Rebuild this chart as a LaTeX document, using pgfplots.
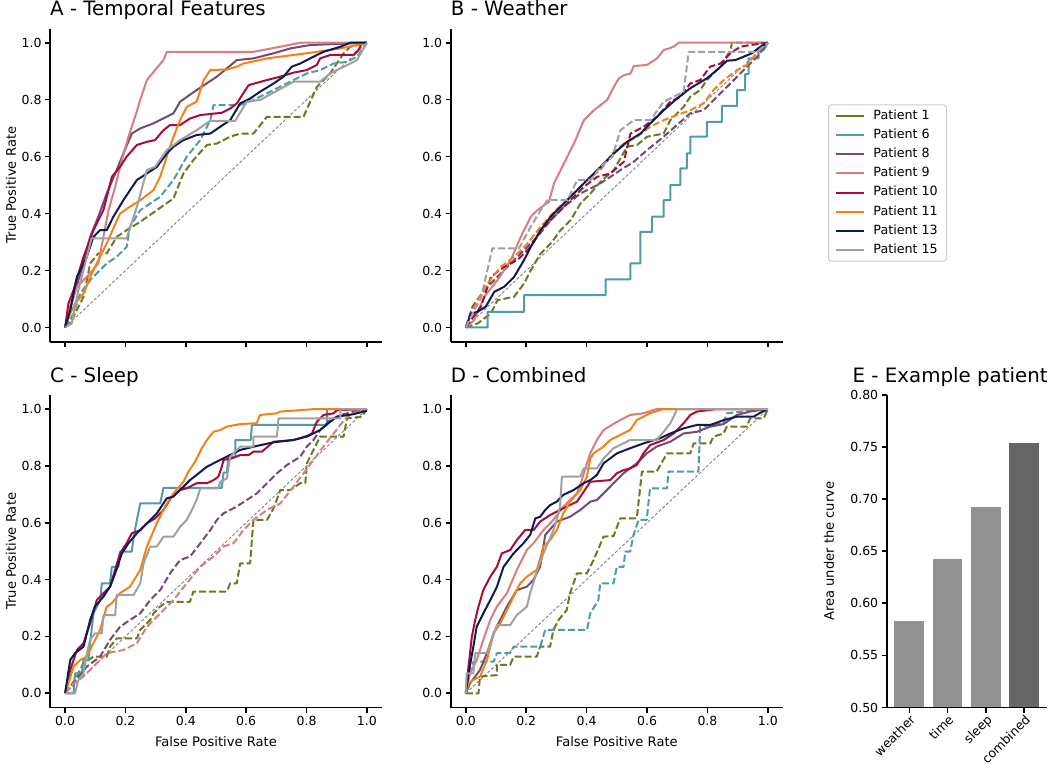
\documentclass[border=0pt]{standalone}
\usepackage{fontspec}
\setmainfont{DejaVu Sans}
\usepackage{pgfplots}
\pgfplotsset{compat=1.18}
\definecolor{c1}{RGB}{107,122,30}
\definecolor{c6}{RGB}{80,155,170}
\definecolor{c8}{RGB}{117,73,113}
\definecolor{c9}{RGB}{215,126,126}
\definecolor{c10}{RGB}{170,12,55}
\definecolor{c11}{RGB}{242,130,20}
\definecolor{c13}{RGB}{12,27,88}
\definecolor{c15}{RGB}{160,160,160}
\definecolor{barg}{RGB}{146,146,146}
\definecolor{bard}{RGB}{102,102,102}
\definecolor{legedge}{RGB}{204,204,204}
\tikzset{das/.style={dash pattern=on 7pt off 3pt}}
\newcommand{\labfont}{\fontsize{13.1}{16}\selectfont}
\pgfplotsset{
  base/.style={
    scale only axis,
    axis x line*=bottom, axis y line*=left,
    axis line style={line width=1.9pt,-},
    tick align=outside, major tick length=5pt,
    tick style={black,line width=1.6pt},
    tick label style={font=\fontsize{12.5}{15}\selectfont},
    title style={at={(axis description cs:0,1)},anchor=base west,yshift=6.8pt,inner sep=0pt,font=\fontsize{19.8}{24}\selectfont},
    every axis plot/.append style={line width=2pt,line join=round},
  },
  roc/.style={base,
    width=332pt, height=313.2pt,
    xmin=-0.05,xmax=1.05,ymin=-0.05,ymax=1.05,
    xtick={0,0.2,0.4,0.6,0.8,1}, ytick={0,0.2,0.4,0.6,0.8,1},
    yticklabels={0.0,0.2,0.4,0.6,0.8,1.0},
    every axis y label/.style={at={(axis description cs:-0.1175,0.5)},rotate=90,anchor=center,font=\labfont},
    every axis x label/.style={at={(axis description cs:0.5,-0.1087)},anchor=center,font=\labfont},
  },
  noxl/.style={xticklabels={}},
  withxl/.style={xticklabels={0.0,0.2,0.4,0.6,0.8,1.0}, xlabel={False Positive Rate}},
}
\newcommand{\diag}{\addplot[gray,line width=0.9pt,dash pattern=on 3pt off 2pt,forget plot] coordinates {(0,0)(1,1)};}
\begin{document}
\begin{tikzpicture}
\path[use as bounding box] (0,0) rectangle (1050pt,-774pt);

% ---------------- A
\begin{axis}[roc,noxl,at={(50pt,-341.7pt)},anchor=south west,
  title={A - Temporal Features}, ylabel={True Positive Rate}]
\diag
\addplot[c1,das] coordinates {(0,0)(0.028,0.037)(0.061,0.108)(0.083,0.225)(0.110,0.260)(0.138,0.260)(0.171,0.318)(0.204,0.342)(0.249,0.371)(0.304,0.412)(0.359,0.453)(0.392,0.541)(0.425,0.588)(0.470,0.641)(0.503,0.646)(0.547,0.670)(0.580,0.681)(0.624,0.681)(0.669,0.740)(0.790,0.740)(0.834,0.845)(0.878,0.892)(0.923,0.963)(0.945,0.986)(1,1)};
\addplot[c6,das] coordinates {(0,0)(0.028,0.049)(0.050,0.119)(0.088,0.172)(0.138,0.225)(0.171,0.248)(0.204,0.283)(0.215,0.354)(0.249,0.412)(0.315,0.459)(0.359,0.518)(0.403,0.600)(0.448,0.658)(0.481,0.728)(0.492,0.781)(0.580,0.781)(0.624,0.799)(0.691,0.834)(0.757,0.869)(0.801,0.892)(0.845,0.904)(0.890,0.927)(0.934,0.933)(0.967,0.951)(1,1)};
\addplot[c8] coordinates {(0,0)(0.028,0.108)(0.061,0.225)(0.083,0.318)(0.110,0.389)(0.138,0.471)(0.171,0.553)(0.193,0.611)(0.221,0.681)(0.249,0.699)(0.293,0.717)(0.359,0.752)(0.381,0.793)(0.436,0.834)(0.503,0.881)(0.536,0.910)(0.569,0.939)(0.624,0.945)(0.691,0.963)(0.746,0.980)(0.812,0.992)(1,1)};
\addplot[c9] coordinates {(0,0)(0.017,0.073)(0.039,0.143)(0.072,0.178)(0.110,0.225)(0.127,0.318)(0.144,0.412)(0.166,0.494)(0.188,0.588)(0.210,0.670)(0.232,0.740)(0.249,0.799)(0.271,0.869)(0.298,0.904)(0.326,0.939)(0.337,0.968)(0.624,0.968)(0.713,0.986)(0.779,1.0)(1,1)};
\addplot[c10] coordinates {(0,0)(0.011,0.084)(0.028,0.131)(0.061,0.248)(0.094,0.342)(0.127,0.412)(0.155,0.529)(0.182,0.564)(0.204,0.600)(0.238,0.641)(0.271,0.652)(0.298,0.658)(0.326,0.693)(0.348,0.711)(0.381,0.711)(0.414,0.734)(0.448,0.746)(0.519,0.754)(0.547,0.769)(0.569,0.787)(0.608,0.851)(0.669,0.869)(0.713,0.881)(0.757,0.895)(0.801,0.904)(0.834,0.922)(0.845,0.945)(0.878,0.957)(0.956,0.957)(0.972,0.974)(0.983,0.998)(1,1)};
\addplot[c11] coordinates {(0,0)(0.017,0.049)(0.033,0.084)(0.061,0.119)(0.083,0.178)(0.105,0.225)(0.138,0.295)(0.182,0.400)(0.215,0.424)(0.249,0.447)(0.293,0.482)(0.315,0.529)(0.337,0.600)(0.359,0.670)(0.381,0.728)(0.403,0.775)(0.436,0.793)(0.459,0.869)(0.481,0.904)(0.536,0.906)(0.569,0.916)(0.591,0.927)(0.669,0.945)(0.801,0.963)(0.912,0.980)(0.967,0.992)(1,1)};
\addplot[c13] coordinates {(0,0)(0.017,0.061)(0.039,0.178)(0.072,0.248)(0.094,0.318)(0.116,0.342)(0.138,0.342)(0.160,0.389)(0.193,0.447)(0.238,0.518)(0.271,0.541)(0.304,0.564)(0.337,0.611)(0.359,0.635)(0.392,0.658)(0.436,0.676)(0.481,0.681)(0.514,0.705)(0.547,0.728)(0.580,0.787)(0.613,0.804)(0.646,0.828)(0.691,0.857)(0.724,0.881)(0.751,0.916)(0.779,0.927)(0.823,0.951)(0.856,0.968)(0.912,0.986)(0.945,1.0)(1,1)};
\addplot[c15] coordinates {(0,0)(0.022,0.014)(0.044,0.131)(0.072,0.248)(0.088,0.313)(0.204,0.313)(0.238,0.424)(0.271,0.553)(0.298,0.564)(0.337,0.623)(0.381,0.658)(0.436,0.693)(0.481,0.726)(0.564,0.726)(0.602,0.793)(0.646,0.799)(0.757,0.863)(0.845,0.863)(0.878,0.892)(0.945,0.927)(0.967,0.939)(1,1)};
\end{axis}

% ---------------- B
\begin{axis}[roc,noxl,width=332.3pt,at={(450.7pt,-341.7pt)},anchor=south west,
  title={B - Weather},
  legend style={at={(axis description cs:1.1354,0.5067)},anchor=west,draw=legedge,line width=1pt,
    rounded corners=3pt,fill=white,font=\fontsize{12.7}{15}\selectfont,
    inner xsep=6.7pt,inner ysep=3pt,row sep=3.2pt,column sep=6.5pt,
    nodes={inner sep=2pt,text height=9.3pt,text depth=2.7pt}},
  legend cell align=left,
  legend image code/.code={\draw[#1,sharp corners] (0pt,0pt) -- (27.7pt,0pt);}]
\diag
\addplot[c1,das,forget plot] coordinates {(0,0)(0.039,0.014)(0.083,0.049)(0.105,0.096)(0.160,0.108)(0.193,0.155)(0.215,0.201)(0.248,0.260)(0.281,0.295)(0.314,0.342)(0.347,0.377)(0.380,0.436)(0.413,0.471)(0.446,0.512)(0.490,0.553)(0.534,0.635)(0.567,0.641)(0.600,0.670)(0.655,0.681)(0.677,0.728)(0.721,0.775)(0.743,0.810)(0.776,0.834)(0.798,0.869)(0.843,0.916)(0.876,0.974)(0.881,1.0)(1,1)};
\addplot[c6,forget plot] coordinates {(0,0)(0.072,0)(0.072,0.055)(0.193,0.055)(0.193,0.114)(0.463,0.114)(0.463,0.169)(0.545,0.169)(0.545,0.225)(0.578,0.225)(0.578,0.336)(0.617,0.336)(0.617,0.389)(0.655,0.389)(0.655,0.447)(0.677,0.447)(0.677,0.5)(0.710,0.5)(0.710,0.559)(0.732,0.559)(0.732,0.611)(0.743,0.611)(0.743,0.670)(0.798,0.670)(0.798,0.722)(0.848,0.722)(0.848,0.778)(0.898,0.778)(0.898,0.834)(0.925,0.834)(0.925,0.890)(0.936,0.890)(0.936,0.945)(0.969,0.945)(0.969,0.974)(0.986,0.974)(1,1)};
\addplot[c8,das,forget plot] coordinates {(0,0)(0.022,0.073)(0.061,0.131)(0.105,0.178)(0.149,0.225)(0.193,0.272)(0.237,0.318)(0.281,0.377)(0.325,0.424)(0.380,0.471)(0.435,0.500)(0.479,0.529)(0.512,0.553)(0.556,0.582)(0.600,0.623)(0.655,0.670)(0.699,0.711)(0.743,0.752)(0.787,0.763)(0.831,0.810)(0.876,0.857)(0.920,0.904)(0.964,0.951)(1,1)};
\addplot[c9,forget plot] coordinates {(0,0)(0.028,0.026)(0.061,0.108)(0.105,0.166)(0.149,0.237)(0.182,0.318)(0.215,0.389)(0.237,0.412)(0.275,0.441)(0.292,0.506)(0.325,0.576)(0.358,0.646)(0.391,0.728)(0.424,0.763)(0.468,0.799)(0.490,0.845)(0.507,0.875)(0.523,0.886)(0.545,0.892)(0.556,0.918)(0.600,0.922)(0.633,0.945)(0.655,0.974)(0.688,0.986)(0.705,1.0)(1,1)};
\addplot[c10,das,forget plot] coordinates {(0,0)(0.017,0.026)(0.050,0.073)(0.083,0.178)(0.127,0.213)(0.171,0.237)(0.215,0.283)(0.248,0.342)(0.281,0.377)(0.314,0.412)(0.347,0.447)(0.391,0.494)(0.435,0.529)(0.479,0.541)(0.523,0.582)(0.545,0.681)(0.589,0.705)(0.633,0.740)(0.677,0.793)(0.710,0.810)(0.743,0.857)(0.776,0.869)(0.809,0.916)(0.843,0.927)(0.876,0.963)(0.909,0.986)(0.942,0.992)(1,1)};
\addplot[c11,das,forget plot] coordinates {(0,0)(0.028,0.073)(0.072,0.155)(0.116,0.213)(0.160,0.248)(0.204,0.295)(0.248,0.354)(0.292,0.406)(0.347,0.459)(0.402,0.518)(0.446,0.553)(0.485,0.611)(0.523,0.646)(0.567,0.670)(0.611,0.705)(0.655,0.728)(0.699,0.746)(0.743,0.763)(0.787,0.787)(0.820,0.834)(0.854,0.869)(0.898,0.904)(0.931,0.922)(0.953,0.951)(0.980,0.986)(1,1)};
\addplot[c13,forget plot] coordinates {(0,0)(0.017,0.049)(0.039,0.055)(0.066,0.073)(0.094,0.125)(0.127,0.143)(0.160,0.178)(0.193,0.237)(0.215,0.283)(0.248,0.342)(0.281,0.389)(0.314,0.424)(0.358,0.471)(0.402,0.518)(0.446,0.564)(0.490,0.611)(0.534,0.652)(0.578,0.681)(0.611,0.717)(0.655,0.763)(0.699,0.804)(0.743,0.840)(0.798,0.875)(0.831,0.904)(0.865,0.937)(0.892,0.939)(0.920,0.951)(0.947,0.963)(0.975,0.986)(1,1)};
\addplot[c15,das,forget plot] coordinates {(0,0)(0.028,0.061)(0.050,0.102)(0.088,0.278)(0.176,0.278)(0.215,0.354)(0.248,0.412)(0.270,0.447)(0.336,0.447)(0.369,0.518)(0.413,0.518)(0.446,0.564)(0.485,0.600)(0.512,0.693)(0.556,0.728)(0.611,0.728)(0.655,0.793)(0.721,0.828)(0.738,0.968)(0.964,0.968)(1,1)};
\addlegendimage{c1,line width=2pt}\addlegendentry{Patient 1}
\addlegendimage{c6,line width=2pt}\addlegendentry{Patient 6}
\addlegendimage{c8,line width=2pt}\addlegendentry{Patient 8}
\addlegendimage{c9,line width=2pt}\addlegendentry{Patient 9}
\addlegendimage{c10,line width=2pt}\addlegendentry{Patient 10}
\addlegendimage{c11,line width=2pt}\addlegendentry{Patient 11}
\addlegendimage{c13,line width=2pt}\addlegendentry{Patient 13}
\addlegendimage{c15,line width=2pt}\addlegendentry{Patient 15}
\end{axis}

% ---------------- C
\begin{axis}[roc,withxl,height=312.7pt,at={(50pt,-707.5pt)},anchor=south west,
  title={C - Sleep}, ylabel={True Positive Rate}]
\diag
\addplot[c1,das] coordinates {(0,0)(0.017,0.023)(0.039,0.059)(0.061,0.106)(0.094,0.129)(0.138,0.129)(0.149,0.164)(0.171,0.193)(0.238,0.193)(0.249,0.223)(0.282,0.258)(0.293,0.281)(0.315,0.305)(0.337,0.322)(0.414,0.322)(0.425,0.358)(0.536,0.358)(0.547,0.387)(0.569,0.387)(0.580,0.457)(0.613,0.457)(0.624,0.610)(0.669,0.610)(0.691,0.651)(0.713,0.715)(0.746,0.715)(0.779,0.739)(0.796,0.739)(0.801,0.809)(0.823,0.856)(0.845,0.903)(0.923,0.903)(0.934,0.967)(0.983,0.973)(1,1)};
\addplot[c6] coordinates {(0,0)(0.028,0)(0.033,0.070)(0.055,0.070)(0.061,0.117)(0.077,0.117)(0.083,0.176)(0.094,0.281)(0.116,0.328)(0.122,0.387)(0.149,0.387)(0.155,0.445)(0.177,0.445)(0.182,0.498)(0.221,0.498)(0.227,0.551)(0.238,0.610)(0.249,0.668)(0.315,0.668)(0.326,0.723)(0.519,0.723)(0.525,0.776)(0.536,0.776)(0.541,0.832)(0.564,0.832)(0.564,0.891)(0.615,0.891)(0.619,0.944)(0.867,0.944)(0.867,1.0)(1,1)};
\addplot[c8,das] coordinates {(0,0)(0.028,0.035)(0.072,0.094)(0.116,0.129)(0.149,0.188)(0.182,0.234)(0.215,0.258)(0.249,0.281)(0.282,0.328)(0.315,0.363)(0.348,0.422)(0.381,0.469)(0.414,0.481)(0.448,0.528)(0.481,0.574)(0.503,0.610)(0.525,0.633)(0.569,0.657)(0.602,0.680)(0.635,0.703)(0.669,0.739)(0.702,0.774)(0.735,0.803)(0.779,0.832)(0.801,0.868)(0.823,0.891)(0.845,0.926)(0.878,0.961)(0.912,0.979)(0.956,0.991)(1,1)};
\addplot[c9,das] coordinates {(0,0)(0.028,0.035)(0.061,0.059)(0.105,0.106)(0.138,0.141)(0.193,0.152)(0.238,0.176)(0.271,0.234)(0.315,0.281)(0.359,0.328)(0.403,0.387)(0.448,0.445)(0.492,0.481)(0.525,0.516)(0.558,0.528)(0.591,0.574)(0.624,0.610)(0.669,0.645)(0.713,0.668)(0.757,0.727)(0.790,0.774)(0.823,0.821)(0.856,0.868)(0.890,0.914)(0.912,0.944)(0.934,0.973)(0.967,0.991)(1,1)};
\addplot[c10] coordinates {(0,0)(0.017,0.082)(0.039,0.152)(0.061,0.176)(0.083,0.246)(0.105,0.328)(0.127,0.352)(0.149,0.375)(0.182,0.492)(0.204,0.528)(0.221,0.563)(0.249,0.574)(0.271,0.598)(0.298,0.615)(0.326,0.645)(0.354,0.692)(0.381,0.715)(0.403,0.721)(0.436,0.739)(0.470,0.739)(0.492,0.750)(0.508,0.762)(0.519,0.797)(0.525,0.821)(0.552,0.826)(0.580,0.838)(0.608,0.838)(0.624,0.850)(0.652,0.850)(0.691,0.885)(0.757,0.891)(0.801,0.905)(0.818,0.914)(0.834,0.955)(0.856,0.979)(0.890,0.985)(0.901,0.996)(1,1)};
\addplot[c11] coordinates {(0,0)(0.011,0.035)(0.028,0.094)(0.050,0.117)(0.072,0.129)(0.088,0.164)(0.116,0.223)(0.138,0.305)(0.155,0.317)(0.182,0.352)(0.215,0.375)(0.249,0.434)(0.271,0.516)(0.304,0.598)(0.331,0.657)(0.359,0.703)(0.392,0.744)(0.409,0.780)(0.431,0.815)(0.453,0.862)(0.470,0.891)(0.492,0.920)(0.514,0.926)(0.536,0.938)(0.580,0.947)(0.635,0.950)(0.646,0.979)(0.702,0.985)(0.713,0.991)(0.829,1.0)(1,1)};
\addplot[c13] coordinates {(0,0)(0.017,0.117)(0.033,0.141)(0.061,0.164)(0.083,0.258)(0.099,0.305)(0.127,0.340)(0.149,0.375)(0.166,0.422)(0.188,0.492)(0.210,0.528)(0.238,0.563)(0.271,0.598)(0.304,0.633)(0.337,0.686)(0.359,0.692)(0.414,0.750)(0.470,0.797)(0.514,0.821)(0.580,0.856)(0.635,0.870)(0.691,0.883)(0.757,0.891)(0.801,0.903)(0.845,0.926)(0.878,0.955)(0.901,0.973)(0.956,0.982)(1,0.994)};
\addplot[c15] coordinates {(0,0)(0.033,0)(0.044,0.047)(0.061,0.070)(0.072,0.141)(0.083,0.188)(0.099,0.211)(0.122,0.211)(0.127,0.275)(0.166,0.275)(0.171,0.346)(0.227,0.346)(0.249,0.387)(0.260,0.457)(0.282,0.516)(0.304,0.516)(0.326,0.551)(0.359,0.551)(0.381,0.586)(0.403,0.610)(0.420,0.645)(0.436,0.680)(0.448,0.721)(0.508,0.721)(0.514,0.744)(0.536,0.756)(0.547,0.832)(0.569,0.856)(0.580,0.868)(0.624,0.868)(0.624,0.903)(0.702,0.903)(0.707,0.967)(0.912,0.967)(0.912,1.0)(1,1)};
\end{axis}

% ---------------- D
\begin{axis}[roc,withxl,width=332.3pt,height=312.7pt,at={(450.7pt,-707.5pt)},anchor=south west,
  title={D - Combined}]
\diag
\addplot[c1,das] coordinates {(0,0)(0.042,0)(0.047,0.059)(0.103,0.064)(0.103,0.100)(0.147,0.100)(0.158,0.129)(0.235,0.129)(0.246,0.164)(0.279,0.164)(0.290,0.223)(0.307,0.258)(0.334,0.293)(0.345,0.352)(0.368,0.422)(0.401,0.422)(0.423,0.469)(0.456,0.551)(0.489,0.553)(0.511,0.615)(0.566,0.615)(0.583,0.780)(0.632,0.780)(0.666,0.844)(0.743,0.844)(0.754,0.879)(0.809,0.879)(0.820,0.903)(0.853,0.914)(0.864,0.938)(0.930,0.938)(0.941,0.967)(0.986,0.967)(1,1)};
\addplot[c6,das] coordinates {(0,0)(0.006,0.070)(0.014,0.082)(0.025,0.111)(0.092,0.111)(0.103,0.141)(0.147,0.141)(0.158,0.164)(0.246,0.164)(0.263,0.223)(0.401,0.223)(0.412,0.281)(0.439,0.328)(0.445,0.387)(0.489,0.387)(0.500,0.445)(0.522,0.445)(0.528,0.498)(0.544,0.498)(0.555,0.557)(0.572,0.610)(0.599,0.610)(0.605,0.674)(0.610,0.721)(0.666,0.721)(0.671,0.780)(0.770,0.780)(0.776,0.938)(0.853,0.950)(0.864,0.985)(1,1)};
\addplot[c8] coordinates {(0,0)(0.014,0.035)(0.031,0.059)(0.047,0.082)(0.070,0.141)(0.092,0.211)(0.114,0.258)(0.136,0.305)(0.169,0.363)(0.202,0.375)(0.224,0.399)(0.246,0.445)(0.263,0.557)(0.301,0.604)(0.345,0.621)(0.379,0.645)(0.412,0.674)(0.434,0.680)(0.478,0.727)(0.522,0.774)(0.566,0.809)(0.599,0.844)(0.632,0.868)(0.677,0.885)(0.721,0.914)(0.765,0.920)(0.809,0.938)(0.853,0.947)(0.897,0.979)(0.941,0.991)(1,1)};
\addplot[c9] coordinates {(0,0)(0.014,0.070)(0.036,0.117)(0.058,0.188)(0.081,0.258)(0.103,0.305)(0.136,0.352)(0.169,0.434)(0.202,0.504)(0.224,0.528)(0.257,0.574)(0.290,0.610)(0.323,0.657)(0.345,0.680)(0.368,0.703)(0.384,0.750)(0.401,0.809)(0.412,0.844)(0.434,0.891)(0.456,0.926)(0.483,0.944)(0.511,0.961)(0.544,0.979)(0.588,0.985)(0.632,1.0)(1,1)};
\addplot[c10] coordinates {(0,0)(0.009,0.094)(0.020,0.199)(0.031,0.258)(0.042,0.305)(0.058,0.363)(0.081,0.410)(0.103,0.445)(0.119,0.492)(0.147,0.504)(0.169,0.539)(0.196,0.574)(0.224,0.574)(0.246,0.604)(0.279,0.627)(0.301,0.639)(0.334,0.657)(0.368,0.674)(0.390,0.709)(0.412,0.744)(0.478,0.750)(0.500,0.774)(0.522,0.785)(0.544,0.791)(0.566,0.803)(0.588,0.844)(0.610,0.873)(0.655,0.891)(0.688,0.914)(0.721,0.950)(0.743,0.979)(0.765,0.991)(0.831,1.0)(1,1)};
\addplot[c11] coordinates {(0,0)(0.009,0.035)(0.025,0.047)(0.047,0.059)(0.070,0.117)(0.092,0.211)(0.114,0.246)(0.136,0.293)(0.158,0.340)(0.180,0.387)(0.202,0.410)(0.235,0.434)(0.257,0.516)(0.279,0.539)(0.301,0.574)(0.323,0.633)(0.345,0.674)(0.379,0.715)(0.401,0.762)(0.412,0.826)(0.423,0.844)(0.456,0.868)(0.478,0.891)(0.500,0.903)(0.544,0.926)(0.566,0.961)(0.588,0.973)(0.610,0.985)(0.655,1.0)(1,1)};
\addplot[c13] coordinates {(0,0)(0.009,0.070)(0.025,0.164)(0.036,0.234)(0.058,0.281)(0.081,0.328)(0.103,0.375)(0.125,0.445)(0.158,0.492)(0.191,0.528)(0.213,0.557)(0.230,0.615)(0.246,0.621)(0.263,0.645)(0.279,0.662)(0.301,0.674)(0.323,0.698)(0.357,0.715)(0.390,0.739)(0.412,0.750)(0.434,0.768)(0.456,0.809)(0.500,0.844)(0.544,0.862)(0.588,0.879)(0.643,0.897)(0.677,0.914)(0.721,0.932)(0.765,0.944)(0.809,0.944)(0.831,0.952)(0.853,0.961)(0.897,0.973)(0.953,0.973)(0.975,0.987)(1,1)};
\addplot[c15] coordinates {(0,0)(0.003,0.070)(0.025,0.070)(0.031,0.141)(0.070,0.141)(0.103,0.240)(0.147,0.240)(0.169,0.275)(0.202,0.305)(0.213,0.352)(0.235,0.428)(0.257,0.492)(0.290,0.574)(0.301,0.610)(0.312,0.657)(0.318,0.762)(0.379,0.762)(0.390,0.791)(0.434,0.791)(0.456,0.826)(0.489,0.862)(0.544,0.891)(0.632,0.891)(0.655,0.920)(0.677,0.950)(0.688,0.973)(0.699,1.0)(1,1)};
\end{axis}

% ---------------- E
\begin{axis}[base,width=160.1pt,height=312.7pt,at={(886.7pt,-707.5pt)},anchor=south west,
  axis on top,
  xmin=-0.59,xmax=3.59,ymin=0.5,ymax=0.8,
  ytick={0.5,0.55,0.6,0.65,0.7,0.75,0.8},
  yticklabels={0.50,0.55,0.60,0.65,0.70,0.75,0.80},
  xtick={0,1,2,3}, xticklabels={weather,time,sleep,combined},
  xticklabel style={rotate=45,anchor=north east,inner sep=1pt},
  title={E - Example patient},
  title style={at={(axis description cs:1,1)},anchor=base east,xshift=1pt},
  ylabel={Area under the curve},
  every axis y label/.style={at={(axis description cs:-0.3604,0.5)},rotate=90,anchor=center,font=\labfont}]
\addplot[ybar,bar width=0.8,bar shift=0pt,fill=barg,draw=white,line width=1pt] coordinates {(0,0.583)(1,0.643)(2,0.693)};
\addplot[ybar,bar width=0.8,bar shift=0pt,fill=bard,draw=white,line width=1pt] coordinates {(3,0.754)};
\end{axis}
\end{tikzpicture}
\end{document}
